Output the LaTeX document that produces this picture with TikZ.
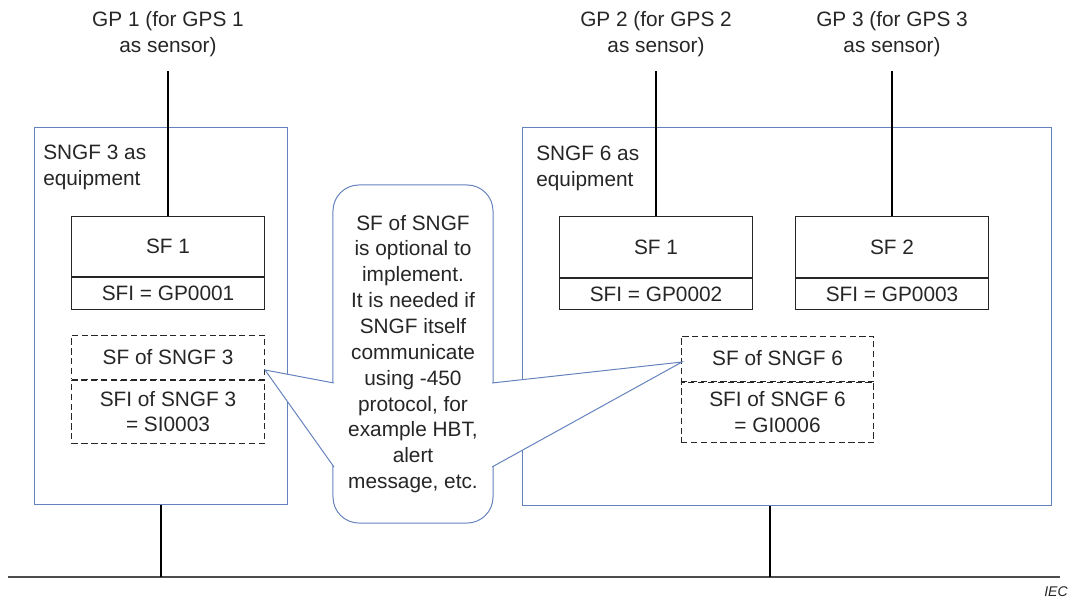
\documentclass[tikz,border=0pt]{standalone}
\usepackage{fontspec}
\setmainfont{Liberation Sans}
\usetikzlibrary{positioning}
\definecolor{frameblue}{RGB}{100,130,190}
\definecolor{inkgray}{RGB}{38,38,38}
\tikzset{
  txt/.style={font=\fontsize{14.8}{18.4}\selectfont, text=inkgray, align=center, inner sep=0pt},
  gplabel/.style={txt, outer ysep=10pt},
  equip/.style={draw=frameblue, line width=0.7pt},
  sfpart/.style={txt, draw=inkgray, line width=0.7pt, minimum width=4.82cm},
  sfdash/.style={sfpart, dash pattern=on 4.5pt off 2.5pt},
  wire/.style={line width=1.3pt, black},
  bus/.style={line width=1.8pt, black!70},
  callout/.style={draw=frameblue, line width=0.7pt},
}
\begin{document}
\begin{tikzpicture}[x=0.025cm, y=-0.025cm]
    \useasboundingbox (0,0) rectangle (1070,604);

    %% left: SNGF 3
    \node[equip, minimum width=6.3cm, minimum height=9.4cm] (eq3) at (161,316) {};
    \node[txt, anchor=west, align=left] (eq3lbl) at (43,167) {SNGF 3 as\\equipment};
    \node[sfpart, minimum height=1.52cm] (sf31) at (168,246.5) {SF 1};
    \node[sfpart, minimum height=0.78cm, below=0pt of sf31] (sfi31) {SFI = GP0001};
    \node[sfdash, minimum height=1.1cm] (sfn3) at (168,357) {SF of SNGF 3};
    \node[sfdash, minimum height=1.58cm, below=0pt of sfn3] (sfin3) {SFI of SNGF 3\\= SI0003};

    %% right: SNGF 6
    \node[equip, minimum width=13.2cm, minimum height=9.425cm] (eq6) at (787,316.5) {};
    \node[txt, anchor=west, align=left] (eq6lbl) at (536,168) {SNGF 6 as\\equipment};
    \node[sfpart, minimum height=1.52cm] (sf61) at (656,247) {SF 1};
    \node[sfpart, minimum height=0.78cm, below=0pt of sf61] (sfi61) {SFI = GP0002};
    \node[sfpart, minimum height=1.52cm] (sf62) at (892,247) {SF 2};
    \node[sfpart, minimum height=0.78cm, below=0pt of sf62] (sfi62) {SFI = GP0003};
    \node[sfdash, minimum height=1.125cm] (sfn6) at (777.5,358.5) {SF of SNGF 6};
    \node[sfdash, minimum height=1.52cm, below=0pt of sfn6] (sfin6) {SFI of SNGF 6\\= GI0006};

    %% sensors on top
    \node[gplabel] (gp1) at (168,34) {GP 1 (for GPS 1\\as sensor)};
    \node[gplabel] (gp2) at (656,34) {GP 2 (for GPS 2\\as sensor)};
    \node[gplabel] (gp3) at (892,34) {GP 3 (for GPS 3\\as sensor)};
    \draw[wire] (sf31.north) -- (sf31.north |- gp1.south)
                (sf61.north) -- (sf61.north |- gp2.south)
                (sf62.north) -- (sf62.north |- gp3.south);

    %% bus
    \coordinate (busL) at (8,577);
    \coordinate (busR) at (1060,577);
    \coordinate (drop6) at (770,577);
    \draw[bus] (busL) -- (busR);
    \draw[wire] (eq3.south) -- (eq3.south |- busL)
                (drop6) -- (drop6 |- eq6.south);

    %% note
    \node[callout, txt, rounded corners=0.65cm, fill=white, minimum width=4cm, minimum height=8.45cm] (note) at (413,354)
        {SF of SNGF\\is optional to\\implement.\\It is needed if\\SNGF itself\\communicate\\using -450\\protocol, for\\example HBT,\\alert\\message, etc.};
    \coordinate (tip3) at (265,370);
    \coordinate (tip6) at (682,362);
    \coordinate (w3a) at (334,383);
    \coordinate (w3b) at (334,467);
    \coordinate (w6a) at (492,383);
    \coordinate (w6b) at (492,467);
    \fill[white] (w3a) -- (tip3) -- (w3b) -- cycle
                 (w6a) -- (tip6) -- (w6b) -- cycle;
    \draw[callout] (w3a) -- (tip3) -- (w3b)
                   (w6a) -- (tip6) -- (w6b);

    \node[font=\itshape\fontsize{10}{12}\selectfont, text=inkgray, anchor=east, inner sep=0pt] (iec) at (1068,592) {IEC};
\end{tikzpicture}
\end{document}
